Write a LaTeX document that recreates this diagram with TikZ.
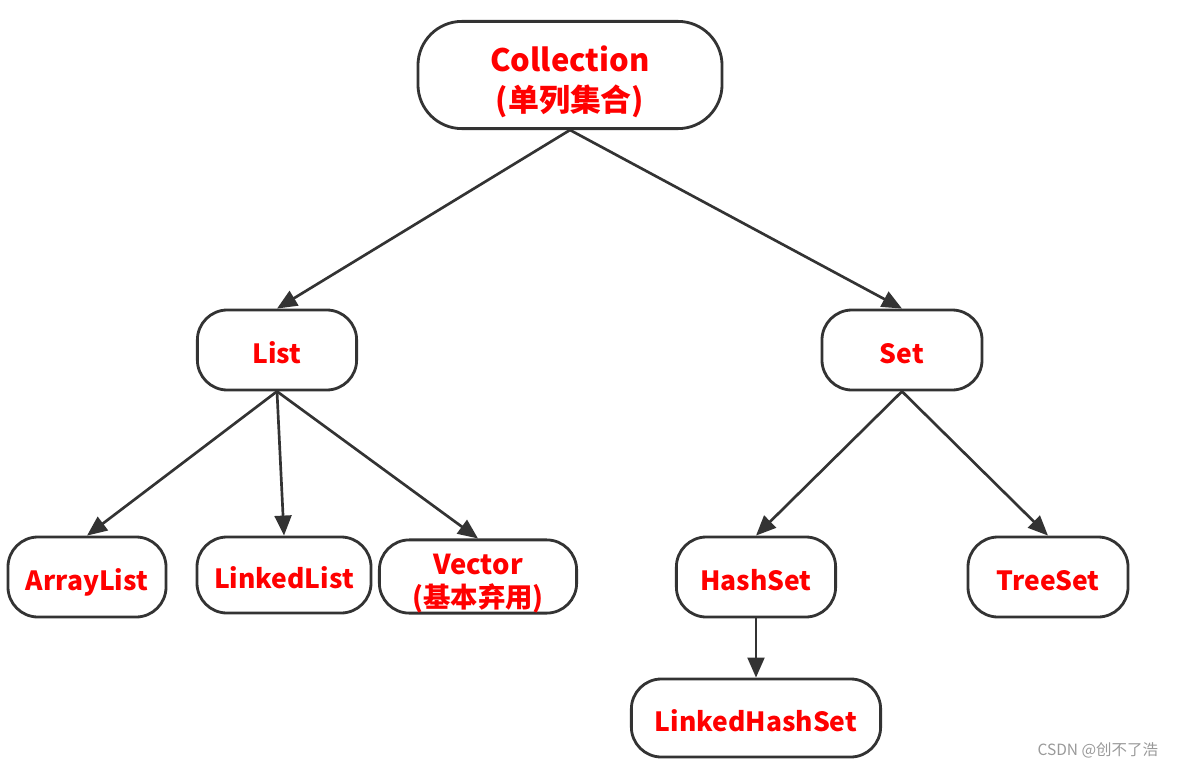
\documentclass[tikz,border=0pt]{standalone}
\usepackage{fontspec}
\newfontfamily\cjk{Noto Sans CJK SC}
\usetikzlibrary{arrows.meta}
\definecolor{linegray}{HTML}{333333}
\begin{document}
\begin{tikzpicture}[x=0.025cm, y=-0.025cm, >={Triangle[length=0.5cm,width=0.42cm]},
    box/.style={draw=linegray, line width=2pt, fill=white, rounded corners=0.75cm,
      minimum height=2cm, inner sep=0pt, align=center, text=red,
      text height=18.8pt, text depth=0.2pt,
      font=\cjk\bfseries\fontsize{18.8}{22}\selectfont},
    link/.style={->, draw=linegray, line width=1.9pt}]
      \useasboundingbox (0,0) rectangle (1177,769);
      % nodes
      \node[box, minimum width=7.6cm, minimum height=2.68cm, rounded corners=1.1cm,
        text height=52pt, text depth=0.4pt,
        font=\cjk\bfseries\fontsize{22}{28}\selectfont] (coll) at (570,75) {Collection\\(单列集合)};
      \node[box, minimum width=3.98cm] (list) at (277,350) {List};
      \node[box, minimum width=4cm] (set) at (902,350) {Set};
      \node[box, minimum width=3.95cm] (alist) at (87,577) {ArrayList};
      \node[box, minimum width=4.35cm, minimum height=1.9cm] (llist) at (284,575) {LinkedList};
      \node[box, minimum width=4.93cm, minimum height=1.83cm,
        text height=44pt, text depth=0.4pt,
        font=\cjk\bfseries\fontsize{19.5}{23.5}\selectfont] (vec) at (478,576.5) {Vector\\(基本弃用)};
      \node[box, minimum width=3.98cm] (hset) at (756,577) {HashSet};
      \node[box, minimum width=4cm] (tset) at (1048,577) {TreeSet};
      \node[box, minimum width=6.23cm, minimum height=1.95cm] (lhset) at (756,718) {LinkedHashSet};
      % edges
      \draw[link] (coll.south) -- (list.north);
      \draw[link] (coll.south) -- (set.north);
      \draw[link] (list.south) -- (alist.north);
      \draw[link] (list.south) -- (llist.north);
      \draw[link] (list.south) -- (vec.north);
      \draw[link] (set.south) -- (hset.north);
      \draw[link] (set.south) -- (tset.north);
      \draw[link] (hset.south) -- (lhset.north);
      \node[text=gray!80, font=\cjk\fontsize{11}{13}\selectfont, anchor=east] (mark) at (1163,750) {CSDN @创不了浩};
\end{tikzpicture}
\end{document}
